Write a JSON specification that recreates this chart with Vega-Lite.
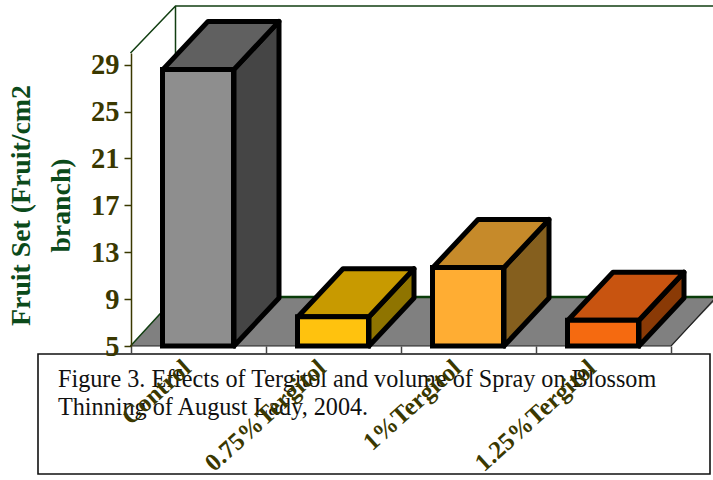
{
"$schema":"https://vega.github.io/schema/vega-lite/v6.json",
"width":540,"height":293,
"autosize":{"type":"none"},
"padding":{"left":131,"top":53,"right":42,"bottom":134},
"background":"white",
"config":{"view":{"stroke":null}},
"datasets":{
"bars":[{"treatment":"Control","fruitSet":28.6},{"treatment":"0.75%Tergitol","fruitSet":7.5},{"treatment":"1%Tergitol","fruitSet":11.7},{"treatment":"1.25%Tergitol","fruitSet":7.2}],
"frame":[{"treatment":"Control","fruitSet":5,"caption":"Figure 3. Effects of Tergitol and volume of Spray on Blossom\nThinning of August Lady, 2004."}]
},
"encoding":{
"x":{"field":"treatment","type":"nominal","sort":null,"scale":{"domain":["Control","0.75%Tergitol","1%Tergitol","1.25%Tergitol"],"paddingInner":0,"paddingOuter":0},
"axis":{"title":null,"zindex":1,"domain":false,"tickBand":"extent","tickColor":"#444444","tickSize":7,"tickWidth":1.5,"labelAngle":-42,"labelAlign":"right","labelBaseline":"middle","labelPadding":11,"labelOffset":-12,"labelFont":"Liberation Serif","labelFontWeight":"bold","labelFontSize":25,"labelColor":"#3a3800","labelOverlap":false,"labelBound":false,"labelFlush":false}},
"y":{"field":"fruitSet","type":"quantitative","scale":{"domain":[5,30],"nice":false,"zero":false},
"axis":{"values":[5,9,13,17,21,25,29],"grid":false,"zindex":1,"domainColor":"#3a3800","domainWidth":1.5,"tickColor":"#3a3800","tickSize":7,"tickWidth":1.5,"labelPadding":5,"labelFont":"Liberation Serif","labelFontWeight":"bold","labelFontSize":28.5,"labelColor":"#3a3800",
"title":["Fruit Set (Fruit/cm2","branch)"],"titleFont":"Liberation Serif","titleFontWeight":"bold","titleFontSize":27.8,"titleColor":"#0b4a1a","titleLineHeight":40,"titleX":-110,"titleY":152,"titleAlign":"center","titleBaseline":"middle"}}
},
"layer":[
{"data":{"name":"frame"},"mark":{"type":"point","size":4,"filled":true,"opacity":1,"fill":"#808080","stroke":null,"shape":"M-68,0L-23,-49L520,-49L472,0Z"}},
{"data":{"name":"frame"},"mark":{"type":"point","size":4,"filled":false,"opacity":1,"stroke":"#123f12","strokeWidth":1.5,"shape":"M-68,-293L-23,-340L520,-340M-23,-340L-23,-49M-68,0L-23,-49"}},
{"data":{"name":"frame"},"mark":{"type":"point","size":4,"filled":false,"opacity":1,"stroke":"#0a3d0a","strokeWidth":2.5,"shape":"M-23,-49L520,-49"}},
{"data":{"name":"frame"},"mark":{"type":"point","size":4,"filled":false,"opacity":1,"stroke":"#222222","strokeWidth":1.2,"shape":"M472.5,0L517,-48M-68,0L472.5,0"}},
{"data":{"name":"frame"},"mark":{"type":"point","size":4,"filled":true,"opacity":1,"fill":"white","stroke":"#111111","strokeWidth":1.6,"shape":"M-160.5,8L511.5,8L511.5,128L-160.5,128Z"}},
{"data":{"name":"frame"},"mark":{"type":"text","font":"Liberation Serif","fontSize":24.2,"color":"#111111","align":"left","baseline":"alphabetic","dx":-140.5,"dy":41,"lineBreak":"\n","lineHeight":28},"encoding":{"text":{"field":"caption"}}},
{"data":{"name":"bars"},"mark":{"type":"point","size":4,"filled":true,"opacity":1,"stroke":"black","strokeWidth":5,"strokeJoin":"round","shape":{"expr":"'M35.5,0L80.5,-48L80.5,'+(scale('y',5)-scale('y',datum.fruitSet)-48)+'L35.5,'+(scale('y',5)-scale('y',datum.fruitSet))+'Z'"}},
"encoding":{"fill":{"field":"treatment","type":"nominal","legend":null,"scale":{"domain":["Control","0.75%Tergitol","1%Tergitol","1.25%Tergitol"],"range":["#454545","#8f7400","#855f1e","#8a3a06"]}}}},
{"data":{"name":"bars"},"mark":{"type":"point","size":4,"filled":true,"opacity":1,"stroke":"black","strokeWidth":5,"strokeJoin":"round","shape":"M-35.5,0L9.5,-48L80.5,-48L35.5,0Z"},
"encoding":{"fill":{"field":"treatment","type":"nominal","legend":null,"scale":{"domain":["Control","0.75%Tergitol","1%Tergitol","1.25%Tergitol"],"range":["#606060","#c89a00","#c68a2a","#c85410"]}}}},
{"data":{"name":"bars"},"mark":{"type":"bar","width":71,"stroke":"black","strokeWidth":5,"strokeJoin":"miter","xOffset":-0.5},
"encoding":{"y2":{"datum":5},"fill":{"field":"treatment","type":"nominal","legend":null,"scale":{"domain":["Control","0.75%Tergitol","1%Tergitol","1.25%Tergitol"],"range":["#8e8e8e","#ffc20e","#ffad33","#f56a10"]}}}}
],
"resolve":{"scale":{"fill":"independent"}}
}
